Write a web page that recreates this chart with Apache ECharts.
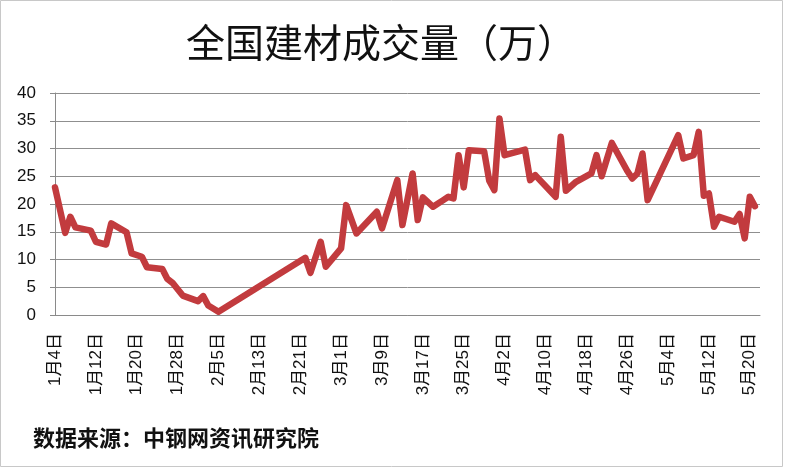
<!DOCTYPE html>
<html>
<head>
<meta charset="utf-8">
<script src="https://cdn.jsdelivr.net/npm/echarts@6/dist/echarts.min.js"></script>
<style>html,body{margin:0;padding:0;background:#fff}#c{width:786px;height:470px}</style>
</head>
<body>
<div id="c"></div>
<script>
const titleText = '全国建材成交量（万）';
const sourceText = '数据来源：中钢网资讯研究院';
const axisStart = [1, 4];
const axisEnd = [5, 22];
const yTicks = [0, 5, 10, 15, 20, 25, 30, 35, 40];

const dates = ['1月4日','1月6日','1月7日','1月8日','1月11日','1月12日','1月14日','1月15日','1月18日','1月19日',
  '1月21日','1月22日','1月25日','1月26日','1月27日','1月29日','2月1日','2月2日','2月3日','2月5日',
  '2月22日','2月23日','2月25日','2月26日','3月1日','3月2日','3月4日','3月8日','3月9日','3月12日',
  '3月13日','3月15日','3月16日','3月17日','3月19日','3月21日','3月22日','3月23日','3月24日','3月25日',
  '3月26日','3月29日','3月30日','3月31日','4月1日','4月2日','4月6日','4月7日','4月8日','4月12日',
  '4月13日','4月14日','4月16日','4月19日','4月20日','4月21日','4月23日','4月26日','4月27日','4月28日',
  '4月29日','4月30日','5月6日','5月7日','5月9日','5月10日','5月11日','5月12日','5月13日','5月14日',
  '5月17日','5月18日','5月19日','5月20日','5月21日'];
const values = [23,14.8,17.7,15.8,15.2,13.2,12.7,16.5,14.9,11.1,
  10.5,8.6,8.3,6.5,5.8,3.5,2.5,3.4,1.7,0.6,
  10.3,7.6,13.2,8.7,12,19.8,14.7,18.6,15.6,24.3,
  16.2,25.5,17.1,21.2,19.5,20.7,21.3,21,28.8,23,
  29.7,29.5,24.2,22.5,35.4,28.8,29.8,24.3,25.2,21.3,
  32.1,22.4,24,25.5,28.8,25,31,26,24.6,25.5,
  29.1,20.7,32.4,28.2,28.8,33,21.5,21.9,15.9,17.7,
  16.8,18.2,13.8,21.3,19.6];

// build the daily category axis (2015, non-leap year)
const monthDays = [31, 28, 31, 30, 31];
const categories = [];
for (let m = axisStart[0]; m <= axisEnd[0]; m++) {
  const from = (m === axisStart[0]) ? axisStart[1] : 1;
  const to = (m === axisEnd[0]) ? axisEnd[1] : monthDays[m - 1];
  for (let d = from; d <= to; d++) categories.push(m + '月' + d + '日');
}
const lookup = {};
dates.forEach((d, i) => { lookup[d] = values[i]; });
const seriesData = categories.map(c => (c in lookup) ? lookup[c] : null);

const chart = echarts.init(document.getElementById('c'), null, {renderer: 'canvas'});
chart.setOption({
  backgroundColor: '#fff',
  animation: false,
  graphic: [
    {type: 'rect', shape: {x: 0.5, y: 0.5, width: 782, height: 466},
     style: {fill: 'none', stroke: '#c8c8c8', lineWidth: 1}},
    {type: 'text', x: 381, y: 42,
     style: {text: titleText, fill: '#111', font: '39px "Noto Sans CJK SC"', textAlign: 'center', textVerticalAlign: 'middle'}},
    {type: 'text', x: 33, y: 438,
     style: {text: sourceText, fill: '#111', font: 'bold 22px "Noto Sans CJK SC"', textAlign: 'left', textVerticalAlign: 'middle'}}
  ],
  grid: {left: 55, right: 26, top: 93, bottom: 155, containLabel: false},
  xAxis: {
    type: 'category',
    data: categories,
    boundaryGap: false,
    axisLine: {show: true, lineStyle: {color: '#8a8a8a', width: 1}},
    axisTick: {show: false},
    axisLabel: {
      interval: 7, rotate: 90, margin: 18, color: '#111',
      fontSize: 17, fontFamily: '"Liberation Sans", "Noto Sans CJK SC"'
    },
    splitLine: {show: false}
  },
  yAxis: {
    type: 'value',
    min: yTicks[0], max: yTicks[yTicks.length - 1], interval: 5,
    axisLine: {show: true, lineStyle: {color: '#8a8a8a', width: 1}},
    axisTick: {show: true, length: 5, lineStyle: {color: '#8a8a8a'}},
    axisLabel: {margin: 19, color: '#111', fontSize: 17, fontFamily: '"Liberation Sans", Arial, sans-serif'},
    splitLine: {show: true, lineStyle: {color: '#8f8f8f', width: 1}}
  },
  series: [{
    type: 'line',
    data: seriesData,
    connectNulls: true,
    showSymbol: false,
    symbol: 'none',
    lineStyle: {color: '#C23B3E', width: 6.5, cap: 'round', join: 'round'}
  }]
});
</script>
</body>
</html>
